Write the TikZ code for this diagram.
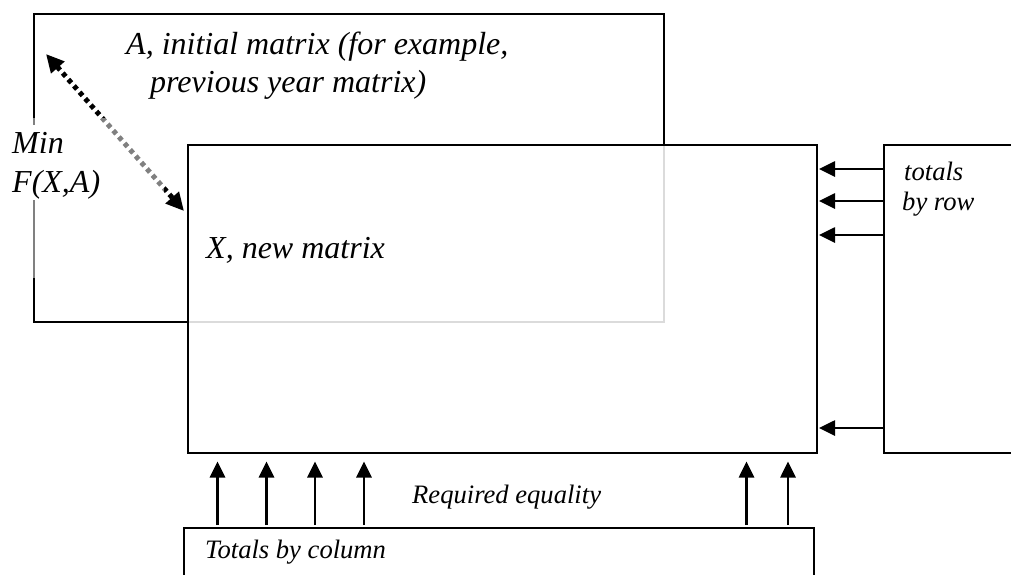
\documentclass[tikz,border=0pt]{standalone}
\usepackage{fontspec}
\setmainfont{Liberation Serif}[ItalicFont=Liberation Serif Italic]
\usetikzlibrary{arrows.meta}
\tikzset{
  box/.style={draw=black, line width=2pt, anchor=north west, inner sep=0pt, outer sep=0pt},
  arr/.style={line width=2.7pt, -{Triangle[length=16pt,width=15pt]}},
  dotarr/.style={line width=5pt, dash pattern=on 4.5pt off 4pt, line cap=butt,
     {Triangle[length=18pt,width=17pt]}-{Triangle[length=18pt,width=17pt]}},
  big/.style={font=\fontsize{32}{38}\selectfont\itshape, inner sep=0pt, anchor=base west},
  small/.style={font=\fontsize{26.6}{30}\selectfont\itshape, inner sep=0pt, anchor=base west},
}
\begin{document}
\begin{tikzpicture}[x=1pt,y=-1pt]
\useasboundingbox (0,0) rectangle (1011,574);
\clip (0,0) rectangle (1011,574);
% initial matrix A
\node[box, minimum width=630pt, minimum height=308pt] (A) at (34,14) {};
% dotted double arrow
\coordinate (d1) at (46,54);
\coordinate (d2) at (184,211);
\draw[dotarr] (d1) -- (d2);
% translucent background of the Min label
\fill[white, opacity=0.5] (0,118) rectangle (164,278);
\fill[white] (8,125) rectangle (100,200);
% new matrix X (translucent white over A)
\node[box, fill=white, fill opacity=0.86, minimum width=629pt, minimum height=308pt] (X) at (188,145) {};
% row totals box
\node[box, minimum width=200pt, minimum height=308pt] (R) at (884,145) {};
% column totals box
\node[box, minimum width=630pt, minimum height=100pt] (B) at (184,528) {};
% texts
\node[big] (ta1) at (126,54) {A, initial matrix (for example,};
\node[big] (ta2) at (150,92) {previous year matrix)};
\node[big] (tm1) at (12,153) {Min};
\node[big] (tm2) at (12,192) {F(X,A)};
\node[big] (tx) at (206,258) {X, new matrix};
\node[small] (tr1) at (904,180) {totals};
\node[small] (tr2) at (902,210) {by row};
\node[small] (teq) at (412,503) {Required equality};
\node[small] (tc) at (205,558) {Totals by column};
% row arrows
\foreach \y [count=\i] in {169,201,235,428}{
  \coordinate (r\i) at (0,\y);
  \draw[arr, shorten >=2pt] (R.west |- r\i) -- (X.east |- r\i);
}
% column arrows
\foreach \x [count=\i] in {217.5,266.5,315,364,746.5,788}{
  \coordinate (c\i) at (\x,0);
  \draw[arr, shorten >=8.5pt, shorten <=3pt] (B.north -| c\i) -- (X.south -| c\i);
}
\end{tikzpicture}
\end{document}
